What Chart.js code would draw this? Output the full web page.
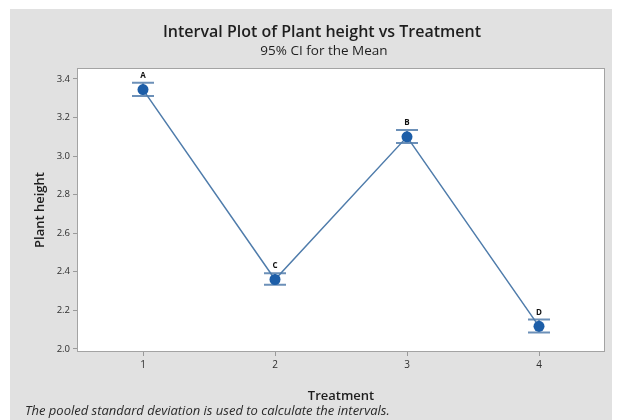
<!DOCTYPE html>
<html>
<head>
<meta charset="utf-8">
<script src="https://cdn.jsdelivr.net/npm/chart.js@4.4.1/dist/chart.umd.min.js"></script>
<style>
  html, body { margin: 0; padding: 0; background: #fff; }
  #wrap { width: 622px; height: 420px; position: relative; }
</style>
</head>
<body>
<div id="wrap"><canvas id="chart" width="622" height="420"></canvas></div>
<script>
// Data
const treatments = [1, 2, 3, 4];
const means = [3.345, 2.36, 3.10, 2.117];
const lowerCI = [3.312, 2.333, 3.068, 2.085];
const upperCI = [3.381, 2.393, 3.136, 2.152];
const groupLetters = ['A', 'C', 'B', 'D'];
const yTickValues = [2.0, 2.2, 2.4, 2.6, 2.8, 3.0, 3.2, 3.4];

const PANEL = '#e1e1e1';
const LINE = '#4f7cab';
const POINT = '#1d5ea8';
const CAP = '#6c90b8';
const FONT = "'Open Sans', 'Noto Sans', sans-serif";

// Grey panel, white plot box, titles and footnote
const backdrop = {
    id: 'backdrop',
    beforeDraw(chart) {
        const { ctx, chartArea: a } = chart;
        ctx.save();
        ctx.fillStyle = '#ffffff';
        ctx.fillRect(0, 0, chart.width, chart.height);
        ctx.fillStyle = PANEL;
        ctx.fillRect(10, 9, 602, 411);
        ctx.fillStyle = '#ffffff';
        ctx.fillRect(a.left, a.top, a.right - a.left, a.bottom - a.top);
        ctx.restore();
    },
    afterDraw(chart) {
        const { ctx, chartArea: a } = chart;
        ctx.save();
        ctx.strokeStyle = '#a3a3a3';
        ctx.lineWidth = 1;
        ctx.strokeRect(a.left + 0.5, a.top + 0.5, a.right - a.left - 1, a.bottom - a.top - 1);

        ctx.fillStyle = '#1e1e1e';
        ctx.textAlign = 'center';
        ctx.textBaseline = 'middle';
        ctx.font = '600 16px ' + FONT;
        ctx.fillText('Interval Plot of Plant height vs Treatment', 322, 32);
        ctx.font = '13.5px ' + FONT;
        ctx.fillText('95% CI for the Mean', 324, 51);

        ctx.textAlign = 'left';
        ctx.font = 'italic 13px ' + FONT;
        ctx.fillStyle = '#2a2a2a';
        ctx.fillText('The pooled standard deviation is used to calculate the intervals.', 25, 411);
        ctx.restore();
    }
};

// Confidence interval bars and group letters, positioned through the scales
const intervals = {
    id: 'intervals',
    beforeDatasetsDraw(chart) {
        const { ctx, scales: { x, y } } = chart;
        ctx.save();
        treatments.forEach((t, i) => {
            const px = x.getPixelForValue(t);
            const yLo = y.getPixelForValue(lowerCI[i]);
            const yHi = y.getPixelForValue(upperCI[i]);
            ctx.strokeStyle = CAP;
            ctx.lineWidth = 2;
            ctx.beginPath();
            ctx.moveTo(px, yLo);
            ctx.lineTo(px, yHi);
            ctx.moveTo(px - 11, yLo);
            ctx.lineTo(px + 11, yLo);
            ctx.moveTo(px - 11, yHi);
            ctx.lineTo(px + 11, yHi);
            ctx.stroke();

            ctx.fillStyle = '#111';
            ctx.font = 'bold 8px ' + FONT;
            ctx.textAlign = 'center';
            ctx.textBaseline = 'bottom';
            ctx.fillText(groupLetters[i], px, yHi - 3);
        });
        ctx.restore();
    }
};

new Chart(document.getElementById('chart'), {
    type: 'line',
    data: {
        datasets: [{
            data: treatments.map((t, i) => ({ x: t, y: means[i] })),
            borderColor: LINE,
            borderWidth: 1.5,
            pointBackgroundColor: POINT,
            pointBorderColor: POINT,
            pointBorderWidth: 0,
            pointRadius: 5.5,
            tension: 0
        }]
    },
    options: {
        responsive: false,
        animation: false,
        layout: { padding: { left: 10, right: 17, top: 68, bottom: 10 } },
        plugins: {
            legend: { display: false },
            tooltip: { enabled: false }
        },
        scales: {
            x: {
                type: 'linear',
                min: 0.5,
                max: 4.5,
                afterBuildTicks: (scale) => { scale.ticks = treatments.map(v => ({ value: v })); },
                afterFit: (scale) => { scale.height = 58; },
                grid: { drawOnChartArea: false, tickLength: 4, color: '#9a9a9a' },
                border: { display: false },
                ticks: { color: '#2e2e2e', font: { family: FONT, size: 10 }, padding: 3 },
                title: {
                    display: true,
                    text: 'Treatment',
                    color: '#1e1e1e',
                    font: { family: FONT, size: 13, weight: '600' },
                    padding: { top: 0, bottom: 6 }
                }
            },
            y: {
                min: 1.984,
                max: 3.457,
                afterBuildTicks: (scale) => { scale.ticks = yTickValues.map(v => ({ value: v })); },
                afterFit: (scale) => { scale.width = 67; },
                grid: { drawOnChartArea: false, tickLength: 4, color: '#9a9a9a' },
                border: { display: false },
                ticks: {
                    color: '#2e2e2e',
                    font: { family: FONT, size: 9.5 },
                    padding: 3,
                    callback: (v) => Number(v).toFixed(1)
                },
                title: {
                    display: true,
                    text: 'Plant height',
                    color: '#1e1e1e',
                    font: { family: FONT, size: 13, weight: '600' },
                    padding: { top: 22, bottom: 0 }
                }
            }
        }
    },
    plugins: [backdrop, intervals]
});
</script>
</body>
</html>
